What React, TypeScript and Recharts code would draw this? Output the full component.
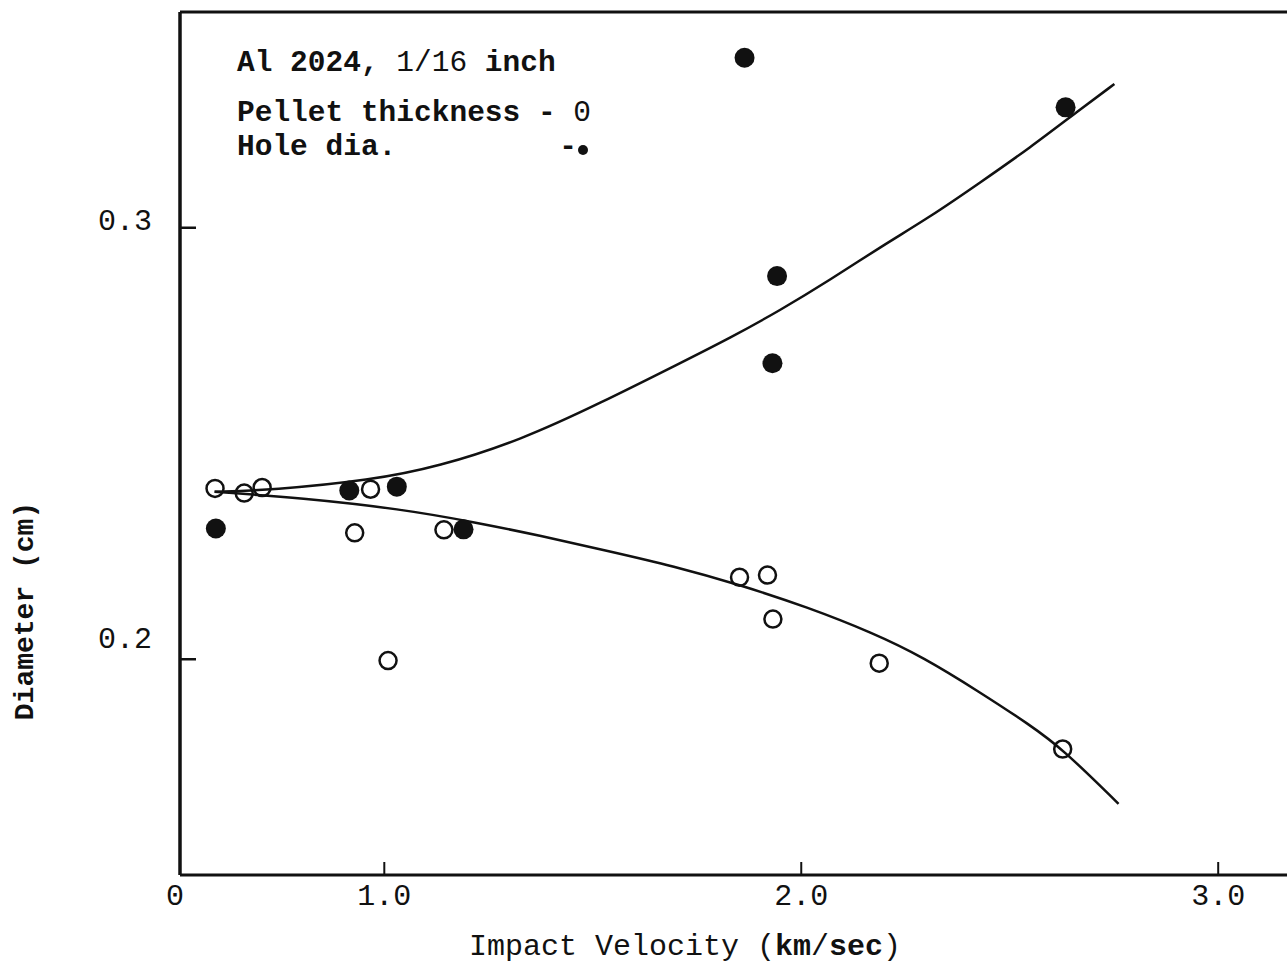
import React from "react";
import {
  ComposedChart,
  Line,
  Scatter,
  XAxis,
  YAxis,
  ReferenceLine,
} from "recharts";

// velocity (km/sec) vs diameter (cm), Al 2024 target, 1/16 inch
const holeDia = [
  { v: 0.596, d: 0.2303 },
  { v: 0.916, d: 0.2391 },
  { v: 1.03, d: 0.24 },
  { v: 1.19, d: 0.2301 },
  { v: 1.864, d: 0.3394 },
  { v: 1.942, d: 0.2888 },
  { v: 1.931, d: 0.2686 },
  { v: 2.634, d: 0.3279 },
];

const pelletThickness = [
  { v: 0.594, d: 0.2396 },
  { v: 0.664, d: 0.2385 },
  { v: 0.707, d: 0.2398 },
  { v: 0.967, d: 0.2394 },
  { v: 0.929, d: 0.2293 },
  { v: 1.009, d: 0.1997 },
  { v: 1.143, d: 0.23 },
  { v: 1.852, d: 0.219 },
  { v: 1.919, d: 0.2195 },
  { v: 1.932, d: 0.2093 },
  { v: 2.187, d: 0.1991 },
  { v: 2.627, d: 0.1792 },
];

// hand-faired curves through each set
const holeCurve = [
  { v: 0.593, d: 0.2388 },
  { v: 0.73, d: 0.2392 },
  { v: 0.969, d: 0.2415 },
  { v: 1.129, d: 0.2446 },
  { v: 1.328, d: 0.2508 },
  { v: 1.519, d: 0.2594 },
  { v: 1.711, d: 0.2687 },
  { v: 1.83, d: 0.2745 },
  { v: 1.95, d: 0.2809 },
  { v: 2.069, d: 0.2879 },
  { v: 2.189, d: 0.2955 },
  { v: 2.309, d: 0.3025 },
  { v: 2.428, d: 0.3104 },
  { v: 2.548, d: 0.3185 },
  { v: 2.667, d: 0.3273 },
  { v: 2.751, d: 0.3333 },
];

const pelletCurve = [
  { v: 0.593, d: 0.2388 },
  { v: 0.801, d: 0.2374 },
  { v: 1.041, d: 0.2348 },
  { v: 1.215, d: 0.2318 },
  { v: 1.376, d: 0.2286 },
  { v: 1.536, d: 0.2251 },
  { v: 1.694, d: 0.2216 },
  { v: 1.854, d: 0.2172 },
  { v: 2.014, d: 0.2121 },
  { v: 2.172, d: 0.2061 },
  { v: 2.292, d: 0.2005 },
  { v: 2.428, d: 0.1924 },
  { v: 2.548, d: 0.1848 },
  { v: 2.627, d: 0.1792 },
  { v: 2.761, d: 0.1665 },
];

const xTickValues = [0.51, 1, 2, 3];
const yTickValues = [0.2, 0.3];

const INK = "#111";
const FONT = '"Liberation Mono", "DejaVu Sans Mono", monospace';

// the lettering of the y labels sits a little off the tick marks
const yLabelNudge: Record<string, number> = { "0.3": 2, "0.2": -11 };

const XTick = (props: any) => {
  const { x, y, payload } = props;
  const first = payload.value < 0.9;
  return (
    <g>
      {!first && (
        <line x1={x} x2={x} y1={y} y2={y - 13} stroke={INK} strokeWidth={2} />
      )}
      <text
        x={first ? x - 5 : x}
        y={y + 30}
        textAnchor="middle"
        fontFamily={FONT}
        fontSize={30}
        fill={INK}
      >
        {first ? "0" : payload.value.toFixed(1)}
      </text>
    </g>
  );
};

const YTick = (props: any) => {
  const { x, y, payload } = props;
  const label = payload.value.toFixed(1);
  return (
    <g>
      <line x1={x} x2={x + 16} y1={y} y2={y} stroke={INK} strokeWidth={2.5} />
      <text
        x={x - 28}
        y={y + (yLabelNudge[label] ?? 0)}
        textAnchor="end"
        fontFamily={FONT}
        fontSize={30}
        fill={INK}
      >
        {label}
      </text>
    </g>
  );
};

const FilledDot = (props: any) => (
  <circle cx={props.cx} cy={props.cy} r={10} fill={INK} />
);

const OpenDot = (props: any) => (
  <circle cx={props.cx} cy={props.cy} r={8.5} fill="none" stroke={INK} strokeWidth={2.5} />
);

export default function App() {
  return (
    <div style={{ position: "absolute", left: 0, top: 0, width: 1287, height: 973, background: "#fff" }}>
      <ComposedChart width={1287} height={973} margin={{ top: 12, right: 0, bottom: 0, left: 0 }}>
        <XAxis
          dataKey="v"
          type="number"
          domain={[0.51, 3.165]}
          allowDataOverflow
          ticks={xTickValues}
          interval={0}
          height={98}
          tickSize={0}
          tickMargin={0}
          tickLine={false}
          axisLine={{ stroke: INK, strokeWidth: 3 }}
          tick={<XTick />}
        />
        <YAxis
          dataKey="d"
          type="number"
          domain={[0.15, 0.35]}
          allowDataOverflow
          ticks={yTickValues}
          interval={0}
          width={180}
          tickSize={0}
          tickMargin={0}
          tickLine={false}
          axisLine={{ stroke: INK, strokeWidth: 3.5 }}
          tick={<YTick />}
        />
        <ReferenceLine y={0.35} stroke={INK} strokeWidth={3} />
        <Line
          data={holeCurve}
          dataKey="d"
          type="basis"
          stroke={INK}
          strokeWidth={2.5}
          dot={false}
          activeDot={false}
          isAnimationActive={false}
        />
        <Line
          data={pelletCurve}
          dataKey="d"
          type="basis"
          stroke={INK}
          strokeWidth={2.5}
          dot={false}
          activeDot={false}
          isAnimationActive={false}
        />
        <Scatter data={pelletThickness} dataKey="d" shape={<OpenDot />} isAnimationActive={false} />
        <Scatter data={holeDia} dataKey="d" shape={<FilledDot />} isAnimationActive={false} />
      </ComposedChart>

      {/* titles and key drawn over the chart */}
      <svg
        width={1287}
        height={973}
        style={{ position: "absolute", left: 0, top: 0, pointerEvents: "none" }}
        fontFamily={FONT}
        fill={INK}
      >
        <text x={237} y={71} fontSize={29.5} fontWeight="bold">
          Al 2024, <tspan fontWeight="normal">1/16</tspan> inch
        </text>
        <text x={237} y={121} fontSize={29.5} fontWeight="bold">
          Pellet thickness - <tspan fontWeight="normal">0</tspan>
        </text>
        <text x={237} y={155} fontSize={29.5} fontWeight="bold">
          Hole dia.
        </text>
        <text x={568} y={155} fontSize={29.5} fontWeight="bold" textAnchor="middle">
          -
        </text>
        <circle cx={583} cy={150} r={5} fill={INK} />

        <text x={685} y={955} fontSize={30} textAnchor="middle">
          Impact Velocity (<tspan fontWeight="bold">km</tspan>/<tspan fontWeight="bold">sec</tspan>)
        </text>
        <text transform="translate(33, 611) rotate(-90)" fontSize={28} fontWeight="bold" textAnchor="middle">
          Diameter (cm)
        </text>
      </svg>
    </div>
  );
}
